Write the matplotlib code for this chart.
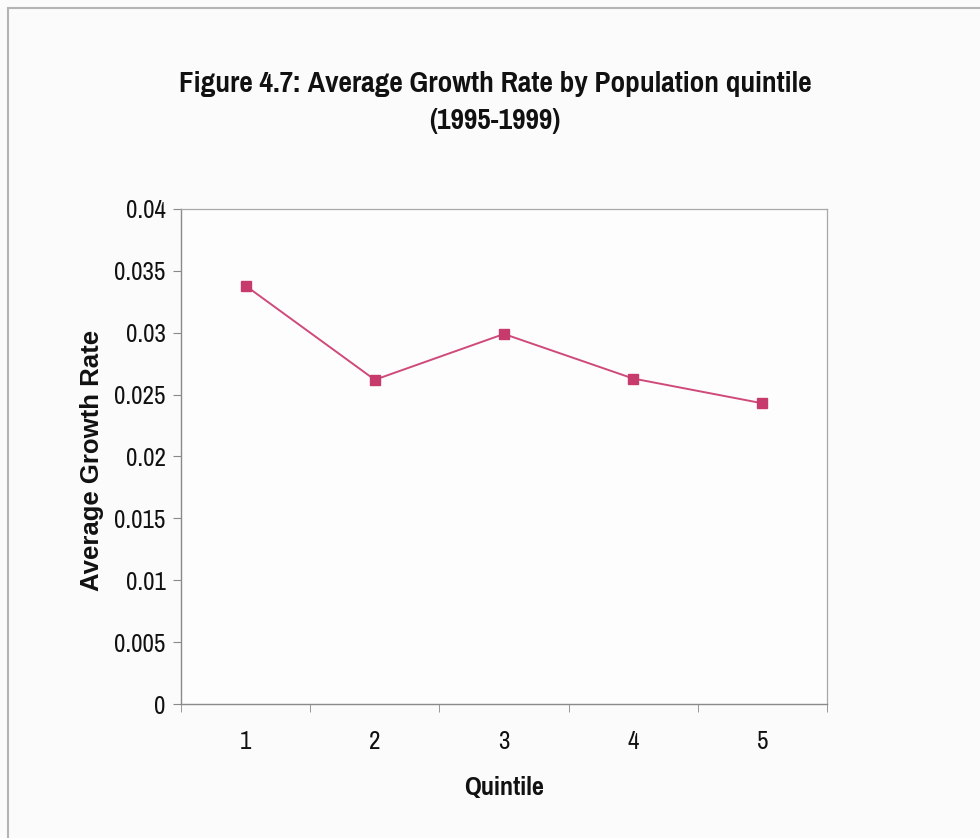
import matplotlib
matplotlib.use("Agg")
import matplotlib.pyplot as plt
from matplotlib.patches import Rectangle
from matplotlib.ticker import FixedLocator, NullFormatter

quintiles = [1, 2, 3, 4, 5]
growth_rate = [0.0338, 0.0262, 0.0299, 0.0263, 0.0243]
y_ticks = [0, 0.005, 0.01, 0.015, 0.02, 0.025, 0.03, 0.035, 0.04]
y_tick_labels = ["0", "0.005", "0.01", "0.015", "0.02", "0.025", "0.03", "0.035", "0.04"]

narrow = ["Pragati Narrow", "Roboto Condensed", "Liberation Sans", "DejaVu Sans"]
regular = ["Liberation Sans", "DejaVu Sans"]

fig = plt.figure(figsize=(9.8, 8.38), dpi=100)
fig.patch.set_facecolor("#fbfbfb")

# outer chart frame
fig.add_artist(Rectangle((8 / 980, -0.05), 1.1, 1 - 8 / 838 + 0.05,
                         transform=fig.transFigure, fill=False,
                         edgecolor="#b4b4b4", linewidth=1.5))

ax = fig.add_axes([181 / 980, 1 - 704 / 838, 646 / 980, 495 / 838])
ax.set_facecolor("#fdfdfd")

ax.plot(quintiles, growth_rate, color="#cf4a7a", linewidth=1.4,
        marker="s", markersize=7.5, markerfacecolor="#c63a6c",
        markeredgecolor="#c63a6c", zorder=3)

ax.set_xlim(0.5, 5.5)
ax.set_ylim(0, 0.04)
ax.set_yticks(y_ticks)
ax.set_yticklabels(y_tick_labels, fontfamily=narrow, fontsize=19.5, color="#111111")

ax.set_xticks(quintiles)
ax.set_xticklabels([str(q) for q in quintiles], fontfamily=narrow, fontsize=19.5, color="#111111")
ax.tick_params(axis="x", which="major", length=0, pad=19)
ax.xaxis.set_minor_locator(FixedLocator([0.5, 1.5, 2.5, 3.5, 4.5, 5.5]))
ax.xaxis.set_minor_formatter(NullFormatter())
ax.tick_params(axis="x", which="minor", length=6, color="#888888", direction="out")
ax.tick_params(axis="y", which="major", length=6, color="#888888", direction="out", pad=5)

for side in ["left", "bottom"]:
    ax.spines[side].set_color("#8a8a8a")
    ax.spines[side].set_linewidth(1.0)
for side in ["top", "right"]:
    ax.spines[side].set_color("#a8a8a8")
    ax.spines[side].set_linewidth(0.9)

ax.set_xlabel("Quintile", fontfamily=narrow, fontweight="bold", fontsize=20.5,
              color="#111111", va="center")
ax.xaxis.set_label_coords(0.5, (704 - 787) / 495)
ax.set_ylabel("Average Growth Rate", fontfamily=regular, fontweight="bold",
              fontsize=18.5, color="#111111", va="center")
ax.yaxis.set_label_coords((92 - 181) / 646, (704 - 460) / 495)

fig.text(495 / 980, 1 - 84 / 838, "Figure 4.7: Average Growth Rate by Population quintile",
         ha="center", va="center", fontfamily=narrow, fontweight="bold", fontsize=23,
         color="#111111")
fig.text(495 / 980, 1 - 121 / 838, "(1995-1999)",
         ha="center", va="center", fontfamily=narrow, fontweight="bold", fontsize=23,
         color="#111111")

fig.savefig("out.png", dpi=100, facecolor=fig.get_facecolor())
